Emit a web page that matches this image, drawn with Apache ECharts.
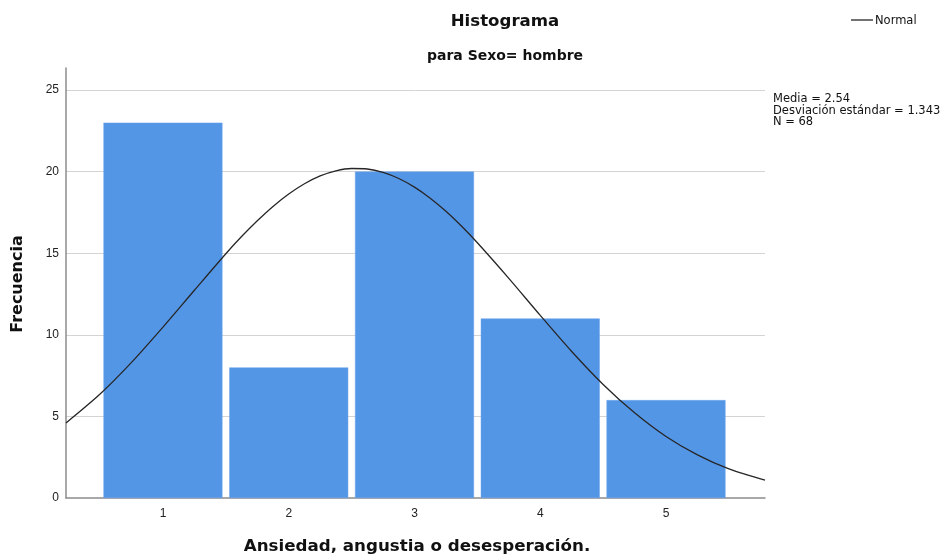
<!DOCTYPE html>
<html><head><meta charset="utf-8">
<script src="https://cdn.jsdelivr.net/npm/echarts@6/dist/echarts.min.js"></script>
<style>html,body{margin:0;padding:0;background:#fff}#c{width:944px;height:556px}</style>
</head><body><div id="c"></div>
<script>
// Data
var categories = [1, 2, 3, 4, 5];
var frequencies = [23, 8, 20, 11, 6];
var yTicks = [0, 5, 10, 15, 20, 25];
// Normal curve points (x, frequency)
var curveX = [0.229, 0.5, 0.75, 1.0, 1.25, 1.5, 1.625, 1.75, 1.875, 2.0, 2.125, 2.25, 2.375, 2.5, 2.625, 2.75, 2.875, 3.0, 3.125, 3.25, 3.375, 3.5, 3.75, 4.0, 4.25, 4.5, 4.75, 5.0, 5.25, 5.5, 5.787];
var curveY = [4.6, 6.37, 8.31, 10.47, 12.73, 14.97, 16.02, 16.99, 17.87, 18.63, 19.26, 19.74, 20.05, 20.19, 20.16, 19.95, 19.58, 19.05, 18.37, 17.57, 16.65, 15.64, 13.46, 11.19, 8.98, 6.96, 5.22, 3.77, 2.64, 1.78, 1.09];
var statsLines = ['Media = 2.54', 'Desviación estándar = 1.343', 'N = 68'];

var font = '"Liberation Sans", Arial, sans-serif';
var wfont = '"DejaVu Sans", sans-serif';
var chart = echarts.init(document.getElementById('c'), null, {renderer: 'canvas'});
var barData = categories.map(function (c, i) { return [c, frequencies[i]]; });
var lineData = curveX.map(function (x, i) { return [x, curveY[i]]; });

chart.setOption({
  animation: false,
  backgroundColor: '#ffffff',
  grid: {left: 66, right: 179, top: 68, bottom: 58, containLabel: false},
  xAxis: {
    type: 'value', min: 0.229, max: 5.787,
    axisLine: {show: true, lineStyle: {color: '#8c8c8c', width: 1.5}},
    axisTick: {show: false},
    splitLine: {show: false},
    axisLabel: {customValues: categories, color: '#222', fontFamily: font, fontSize: 12, margin: 10}
  },
  yAxis: {
    type: 'value', min: 0, max: 26.35, interval: 5,
    axisLine: {show: true, lineStyle: {color: '#8c8c8c', width: 1.5}},
    axisTick: {show: false},
    splitLine: {show: true, showMinLine: false, showMaxLine: false, lineStyle: {color: '#d4d4d4', width: 1}},
    axisLabel: {showMaxLabel: false, color: '#222', fontFamily: font, fontSize: 12, margin: 7,
      formatter: function (v) { return yTicks.indexOf(v) >= 0 ? String(v) : ''; }}
  },
  series: [
    {type: 'bar', data: barData, barWidth: 119, itemStyle: {color: '#5496e6', borderColor: '#6aa5ec', borderWidth: 0.5}, z: 2},
    {type: 'line', data: lineData, smooth: 0.3, showSymbol: false, symbol: 'none', clip: true,
      lineStyle: {color: '#262626', width: 1.3}, z: 3}
  ],
  graphic: [
    {type: 'text', style: {text: 'Histograma', x: 505, y: 22, textAlign: 'center', textVerticalAlign: 'middle', font: 'bold 16.6px ' + wfont, fill: '#111'}},
    {type: 'text', style: {text: 'para Sexo= hombre', x: 505, y: 56, textAlign: 'center', textVerticalAlign: 'middle', font: 'bold 14px ' + wfont, fill: '#111'}},
    {type: 'line', shape: {x1: 851, y1: 20, x2: 873, y2: 20}, style: {stroke: '#262626', lineWidth: 1.3}},
    {type: 'text', style: {text: 'Normal', x: 875, y: 21, textAlign: 'left', textVerticalAlign: 'middle', font: '11.5px ' + wfont, fill: '#111'}},
    {type: 'text', style: {text: statsLines.join('\n'), x: 773, y: 93, textAlign: 'left', textVerticalAlign: 'top', font: '11.5px ' + wfont, lineHeight: 11.7, fill: '#111'}},
    {type: 'text', rotation: Math.PI / 2, x: 18, y: 284, style: {text: 'Frecuencia', x: 0, y: 0, textAlign: 'center', textVerticalAlign: 'middle', font: 'bold 16px ' + wfont, fill: '#111'}},
    {type: 'text', style: {text: 'Ansiedad, angustia o desesperación.', x: 417, y: 547, textAlign: 'center', textVerticalAlign: 'middle', font: 'bold 16.7px ' + wfont, fill: '#111'}}
  ]
});
</script></body></html>
